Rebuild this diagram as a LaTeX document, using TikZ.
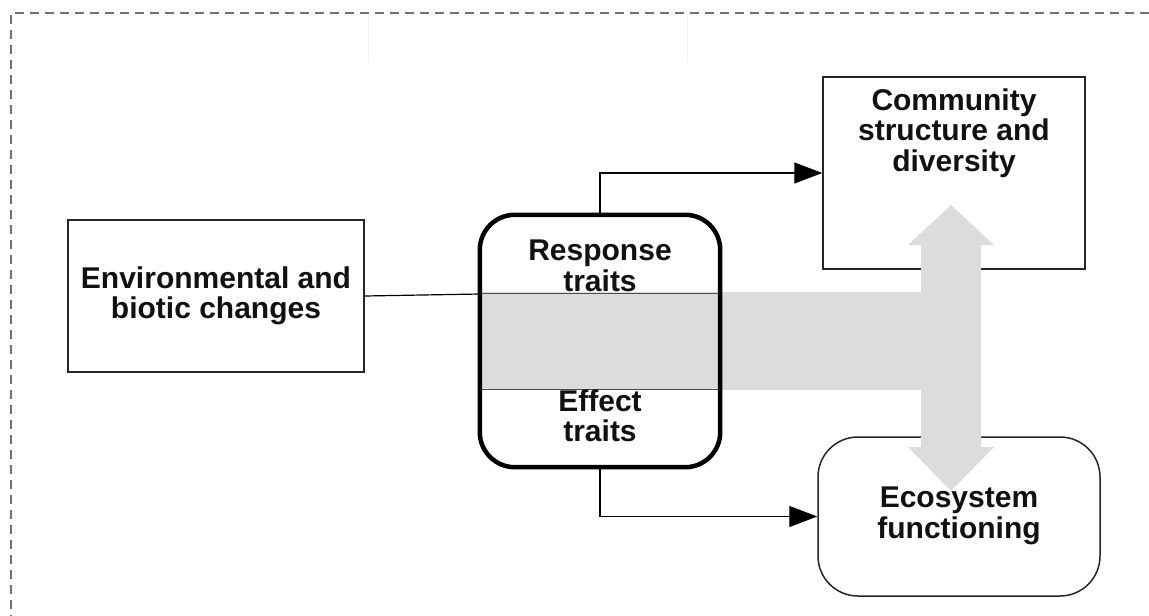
\documentclass[tikz,border=0pt]{standalone}
\usepackage{fontspec}
\setmainfont{Liberation Sans}
\usetikzlibrary{arrows.meta}
\definecolor{bandc}{HTML}{DCDCDC}
\definecolor{borderc}{HTML}{707070}
\definecolor{txtc}{HTML}{111111}
\tikzset{
  lbl/.style={align=center, text=txtc, inner sep=0pt, font=\bfseries\fontsize{30}{30.5}\selectfont},
  thinbox/.style={draw=black!85, line width=1.5pt, fill=white, inner sep=0pt},
  arr/.style={line width=1.2pt, -{Triangle[length=28pt,width=21pt]}},
}
\begin{document}
\begin{tikzpicture}[x=1pt,y=-1pt]
\useasboundingbox (0,0) rectangle (1149,616);
% dashed frame
\draw[borderc, line width=2.6pt, dash pattern=on 9pt off 6pt] (1149,13) -- (11,13) -- (11,616);
\draw[black!5, line width=0.8pt] (368,14) -- (368,62);
\draw[black!5, line width=0.8pt] (687,14) -- (687,62);
% boxes
\node[thinbox, minimum width=296pt, minimum height=152pt] (env) at (216,296) {};
\node[thinbox, minimum width=262pt, minimum height=192pt] (comm) at (954,173) {};
\node[thinbox, rounded corners=40pt, minimum width=282pt, minimum height=159pt] (eco) at (959,516.5) {};
\node[fill=white, rounded corners=35pt, minimum width=240pt, minimum height=252pt, inner sep=0pt] (traits) at (600,341) {};
% gray band and double arrow
\fill[bandc] (482,292) rectangle (921,390);
\fill[bandc] (951,205) -- (994,245) -- (981,245) -- (981,447) -- (994,447) -- (951,491)
  -- (908,447) -- (921,447) -- (921,245) -- (908,245) -- cycle;
\draw[black!70, line width=0.8pt] (482,293) -- (718,293);
\draw[black!70, line width=0.8pt] (482,389) -- (718,389);
% traits box outline
\draw[black, line width=4.5pt, rounded corners=35pt] (traits.north west) rectangle (traits.south east);
% connectors
\coordinate (envin) at (480,294);
\draw[line width=1.2pt] (env.east) -- (envin);
\draw[arr] (traits.north) |- (comm.west);
\draw[arr] (traits.south) |- (eco.west);
% labels
\node[lbl] (envt) at (216,296) {Environmental and\\biotic changes};
\node[lbl] (resp) at (600,266) {Response\\traits};
\node[lbl] (eff) at (600,416) {Effect\\traits};
\node[lbl] (commt) at (954,133) {Community\\structure and\\diversity};
\node[lbl] (ecot) at (959,516) {Ecosystem\\functioning};
\end{tikzpicture}
\end{document}
